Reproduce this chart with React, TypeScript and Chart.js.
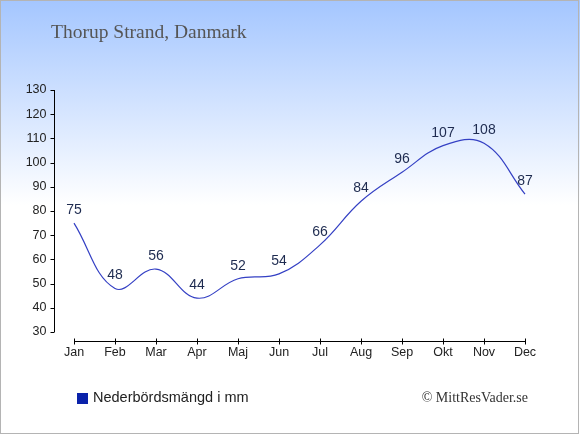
import { useEffect, useRef } from 'react';
import { Chart, registerables } from 'chart.js';

Chart.register(...registerables);

const months = ['Jan', 'Feb', 'Mar', 'Apr', 'Maj', 'Jun', 'Jul', 'Aug', 'Sep', 'Okt', 'Nov', 'Dec'];
const rainfall = [75, 48, 56, 44, 52, 54, 66, 84, 96, 107, 108, 87];
const yTicks = [30, 40, 50, 60, 70, 80, 90, 100, 110, 120, 130];

const title = 'Thorup Strand, Danmark';
const legendLabel = 'Nederbördsmängd i mm';
const credit = '© MittResVader.se';

const decorPlugin = {
  id: 'decor',
  beforeDraw(chart: any) {
    const { ctx, width, height } = chart;
    ctx.save();
    const grad = ctx.createLinearGradient(0, 0, 0, 205);
    grad.addColorStop(0, '#a4c6ff');
    grad.addColorStop(1, '#ffffff');
    ctx.fillStyle = '#ffffff';
    ctx.fillRect(0, 0, width, height);
    ctx.fillStyle = grad;
    ctx.fillRect(0, 0, width, 205);
    ctx.restore();
  },
  afterDraw(chart: any) {
    const { ctx, chartArea, width, height } = chart;
    const x = chart.scales.x;
    const y = chart.scales.y;
    ctx.save();

    // axes
    ctx.strokeStyle = '#000';
    ctx.lineWidth = 1;
    const ax = Math.round(chartArea.left) + 0.5;
    ctx.beginPath();
    ctx.moveTo(ax, y.getPixelForValue(yTicks[yTicks.length - 1]));
    ctx.lineTo(ax, y.getPixelForValue(yTicks[0]));
    yTicks.forEach((v) => {
      const py = Math.round(y.getPixelForValue(v)) + 0.5;
      ctx.moveTo(ax - 4, py);
      ctx.lineTo(ax, py);
    });
    const bx = Math.round(chartArea.bottom) + 9.5;
    const x0 = x.getPixelForValue(0);
    const x1 = x.getPixelForValue(months.length - 1);
    ctx.moveTo(x0, bx);
    ctx.lineTo(x1, bx);
    months.forEach((_, i) => {
      const px = Math.round(x.getPixelForValue(i)) + 0.5;
      ctx.moveTo(px, bx - 3);
      ctx.lineTo(px, bx + 3);
    });
    ctx.stroke();

    // value labels
    const meta = chart.getDatasetMeta(0);
    ctx.font = '14px "Liberation Sans", Arial, sans-serif';
    ctx.fillStyle = '#1e2b50';
    ctx.textAlign = 'center';
    ctx.textBaseline = 'middle';
    meta.data.forEach((pt: any, i: number) => {
      ctx.fillText(String(rainfall[i]), pt.x, pt.y - 13);
    });

    // title
    ctx.font = '19.5px "Liberation Serif", "Times New Roman", serif';
    ctx.fillStyle = '#555';
    ctx.textAlign = 'left';
    ctx.fillText(title, 51, 33);

    // legend
    ctx.fillStyle = '#0a22aa';
    ctx.fillRect(77, 393, 11, 11);
    ctx.font = '14.5px "Liberation Sans", Arial, sans-serif';
    ctx.fillStyle = '#222';
    ctx.fillText(legendLabel, 93, 398);

    // credit
    ctx.font = '14px "Liberation Serif", "Times New Roman", serif';
    ctx.fillStyle = '#333';
    ctx.textAlign = 'right';
    ctx.fillText(credit, 528, 398);

    // frame
    ctx.strokeStyle = '#b4b4b4';
    ctx.strokeRect(0.5, 0.5, width - 2, height - 2);
    ctx.restore();
  },
};

export default function App() {
  const canvasRef = useRef<HTMLCanvasElement>(null);
  const chartRef = useRef<Chart | null>(null);

  useEffect(() => {
    document.body.style.margin = '0';
    if (!canvasRef.current) return;
    if (chartRef.current) chartRef.current.destroy();

    chartRef.current = new Chart(canvasRef.current, {
      type: 'line',
      data: {
        labels: months,
        datasets: [
          {
            label: legendLabel,
            data: rainfall,
            borderColor: '#3440c4',
            borderWidth: 1.2,
            pointRadius: 0,
            tension: 0.4,
            fill: false,
          },
        ],
      },
      options: {
        responsive: false,
        animation: false,
        devicePixelRatio: 1,
        layout: { padding: { left: 0, top: 90, right: 34.5, bottom: 0 } },
        plugins: {
          legend: { display: false },
          title: { display: false },
          tooltip: { enabled: false },
        },
        scales: {
          x: {
            type: 'category',
            offset: true,
            grid: { display: false, drawTicks: false },
            border: { display: false },
            ticks: { color: '#222', font: { family: '"Liberation Sans", Arial, sans-serif', size: 12.5 }, padding: 13, maxRotation: 0 },
            afterFit: (scale: any) => {
              scale.height = 103;
            },
          },
          y: {
            min: yTicks[0],
            max: yTicks[yTicks.length - 1],
            grid: { display: false, drawTicks: false },
            border: { display: false },
            afterBuildTicks: (scale: any) => {
              scale.ticks = yTicks.map((v) => ({ value: v }));
            },
            ticks: { color: '#222', font: { family: '"Liberation Sans", Arial, sans-serif', size: 12.5 }, padding: 7 },
            afterFit: (scale: any) => {
              scale.width = 53.5;
            },
          },
        },
      },
      plugins: [decorPlugin],
    });

    return () => {
      if (chartRef.current) {
        chartRef.current.destroy();
        chartRef.current = null;
      }
    };
  }, []);

  return <canvas ref={canvasRef} width={580} height={435} style={{ display: 'block' }} />;
}
